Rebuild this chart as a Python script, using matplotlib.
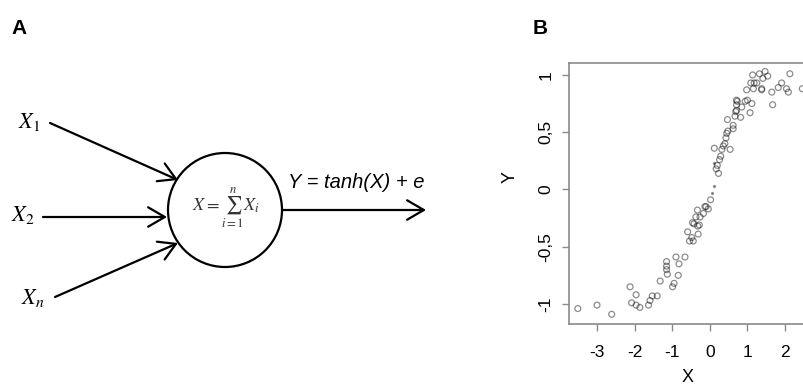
import numpy as np
import matplotlib.pyplot as plt
from matplotlib.patches import Circle

plt.rcParams['font.family'] = ['Liberation Sans', 'DejaVu Sans']
plt.rcParams['mathtext.fontset'] = 'stix'
plt.rcParams['axes.unicode_minus'] = False

# scatter data
x_vals = [-3.51, -3.0, -2.61, -2.12, -2.08, -1.96, -1.96, -1.86, -1.63, -1.59,
          -1.53, -1.40, -1.32, -1.15, -1.15, -1.15, -1.13, -0.99, -0.95, -0.90,
          -0.84, -0.82, -0.66, -0.59, -0.54, -0.48, -0.46, -0.44, -0.42, -0.37,
          -0.33, -0.32, -0.28, -0.31, -0.26, -0.17, -0.13, -0.10, -0.04, 0.02,
          0.12, 0.17, 0.20, 0.23, 0.26, 0.29, 0.32, 0.36, 0.40, 0.43,
          0.45, 0.48, 0.47, 0.54, 0.62, 0.62, 0.67, 0.69, 0.71, 0.71,
          0.71, 0.73, 0.82, 0.85, 0.94, 0.98, 1.00, 1.07, 1.09, 1.12,
          1.14, 1.16, 1.18, 1.25, 1.32, 1.38, 1.38, 1.41, 1.47, 1.54,
          1.65, 1.67, 1.82, 1.91, 2.04, 2.09, 2.13, 2.46]
y_vals = [-1.04, -1.01, -1.09, -0.85, -0.99, -0.92, -1.01, -1.03, -1.01, -0.97,
          -0.93, -0.93, -0.80, -0.63, -0.67, -0.70, -0.74, -0.85, -0.82, -0.59,
          -0.75, -0.65, -0.59, -0.37, -0.45, -0.42, -0.29, -0.45, -0.30, -0.24,
          -0.18, -0.32, -0.31, -0.39, -0.24, -0.21, -0.15, -0.15, -0.17, -0.09,
          0.36, 0.18, 0.21, 0.14, 0.26, 0.29, 0.35, 0.38, 0.40, 0.45,
          0.49, 0.51, 0.61, 0.35, 0.53, 0.56, 0.64, 0.68, 0.69, 0.74,
          0.78, 0.77, 0.63, 0.72, 0.77, 0.87, 0.78, 0.67, 0.93, 0.75,
          1.00, 0.88, 0.93, 0.93, 1.01, 0.88, 0.87, 0.97, 1.03, 0.99,
          0.85, 0.74, 0.89, 0.93, 0.88, 0.85, 1.01, 0.88]
# faint tiny points near the origin
x_small = [0.06, 0.10, 0.11]
y_small = [-0.03, 0.03, 0.23]

x_ticks = [-3, -2, -1, 0, 1, 2]
y_ticks = [-1, -0.5, 0, 0.5, 1]
y_ticklabels = ['-1', '-0,5', '0', '0,5', '1']

fig = plt.figure(figsize=(8.04, 3.85), dpi=100)

# ---- panel A: neuron diagram, drawn in pixel coordinates
ax_a = fig.add_axes([0, 0, 1, 1])
ax_a.set_xlim(0, 804)
ax_a.set_ylim(385, 0)
ax_a.axis('off')

ax_a.text(19, 29, 'A', fontsize=15, fontweight='bold', ha='center', va='center')

ax_a.add_patch(Circle((225, 210), 57, fill=False, lw=1.6, ec='black'))

arrow = dict(arrowstyle='->,head_length=0.6,head_width=0.35', lw=1.6,
             color='black', mutation_scale=20, shrinkA=0, shrinkB=0)
ax_a.annotate('', xy=(178, 180), xytext=(50, 123), arrowprops=arrow)
ax_a.annotate('', xy=(167, 217), xytext=(43, 217), arrowprops=arrow)
ax_a.annotate('', xy=(178, 243), xytext=(55, 297), arrowprops=arrow)
ax_a.annotate('', xy=(426, 210), xytext=(282, 210), arrowprops=arrow)

ax_a.text(29, 122, r'$X_1$', fontsize=16, ha='center', va='center')
ax_a.text(23, 215, r'$X_2$', fontsize=16, ha='center', va='center')
ax_a.text(33, 298, r'$X_n$', fontsize=16, ha='center', va='center')

ax_a.text(226, 208, r'$X = \sum_{i=1}^{n} X_i$', fontsize=13, color='#333333',
          ha='center', va='center')
ax_a.text(288, 182, 'Y = tanh(X) + e', fontsize=14.5, style='italic',
          ha='left', va='center')

# ---- panel B: scatter of Y vs X
x0, x1 = -3.745, 2.665
y0, y1 = -1.175, 1.107
ax_b = fig.add_axes([569 / 804, 1 - 324 / 385, (810 - 569) / 804, (324 - 62.7) / 385])
ax_b.scatter(x_vals, y_vals, s=18, facecolors='none', edgecolors=(0, 0, 0, 0.45),
             linewidths=0.9)
ax_b.scatter(x_small, y_small, s=2, color=(0, 0, 0, 0.35))
ax_b.set_xlim(x0, x1)
ax_b.set_ylim(y0, y1)
ax_b.set_xticks(x_ticks)
ax_b.set_yticks(y_ticks)
ax_b.set_yticklabels(y_ticklabels, rotation=90, va='center')
for sp in ax_b.spines.values():
    sp.set_color('#8a8a8a')
    sp.set_linewidth(1.2)
ax_b.tick_params(axis='both', colors='#8a8a8a', labelcolor='black', length=5,
                 width=1.0, labelsize=12.5)
ax_b.tick_params(axis='x', pad=10)
ax_b.tick_params(axis='y', pad=6)

fig.text(688 / 804, 1 - 377 / 385, 'X', fontsize=13, ha='center', va='center')
fig.text(510 / 804, 1 - 177 / 385, 'Y', fontsize=13, ha='center', va='center',
         rotation=90)
fig.text(540 / 804, 1 - 29 / 385, 'B', fontsize=15, fontweight='bold',
         ha='center', va='center')

fig.savefig('out.png', dpi=100)
